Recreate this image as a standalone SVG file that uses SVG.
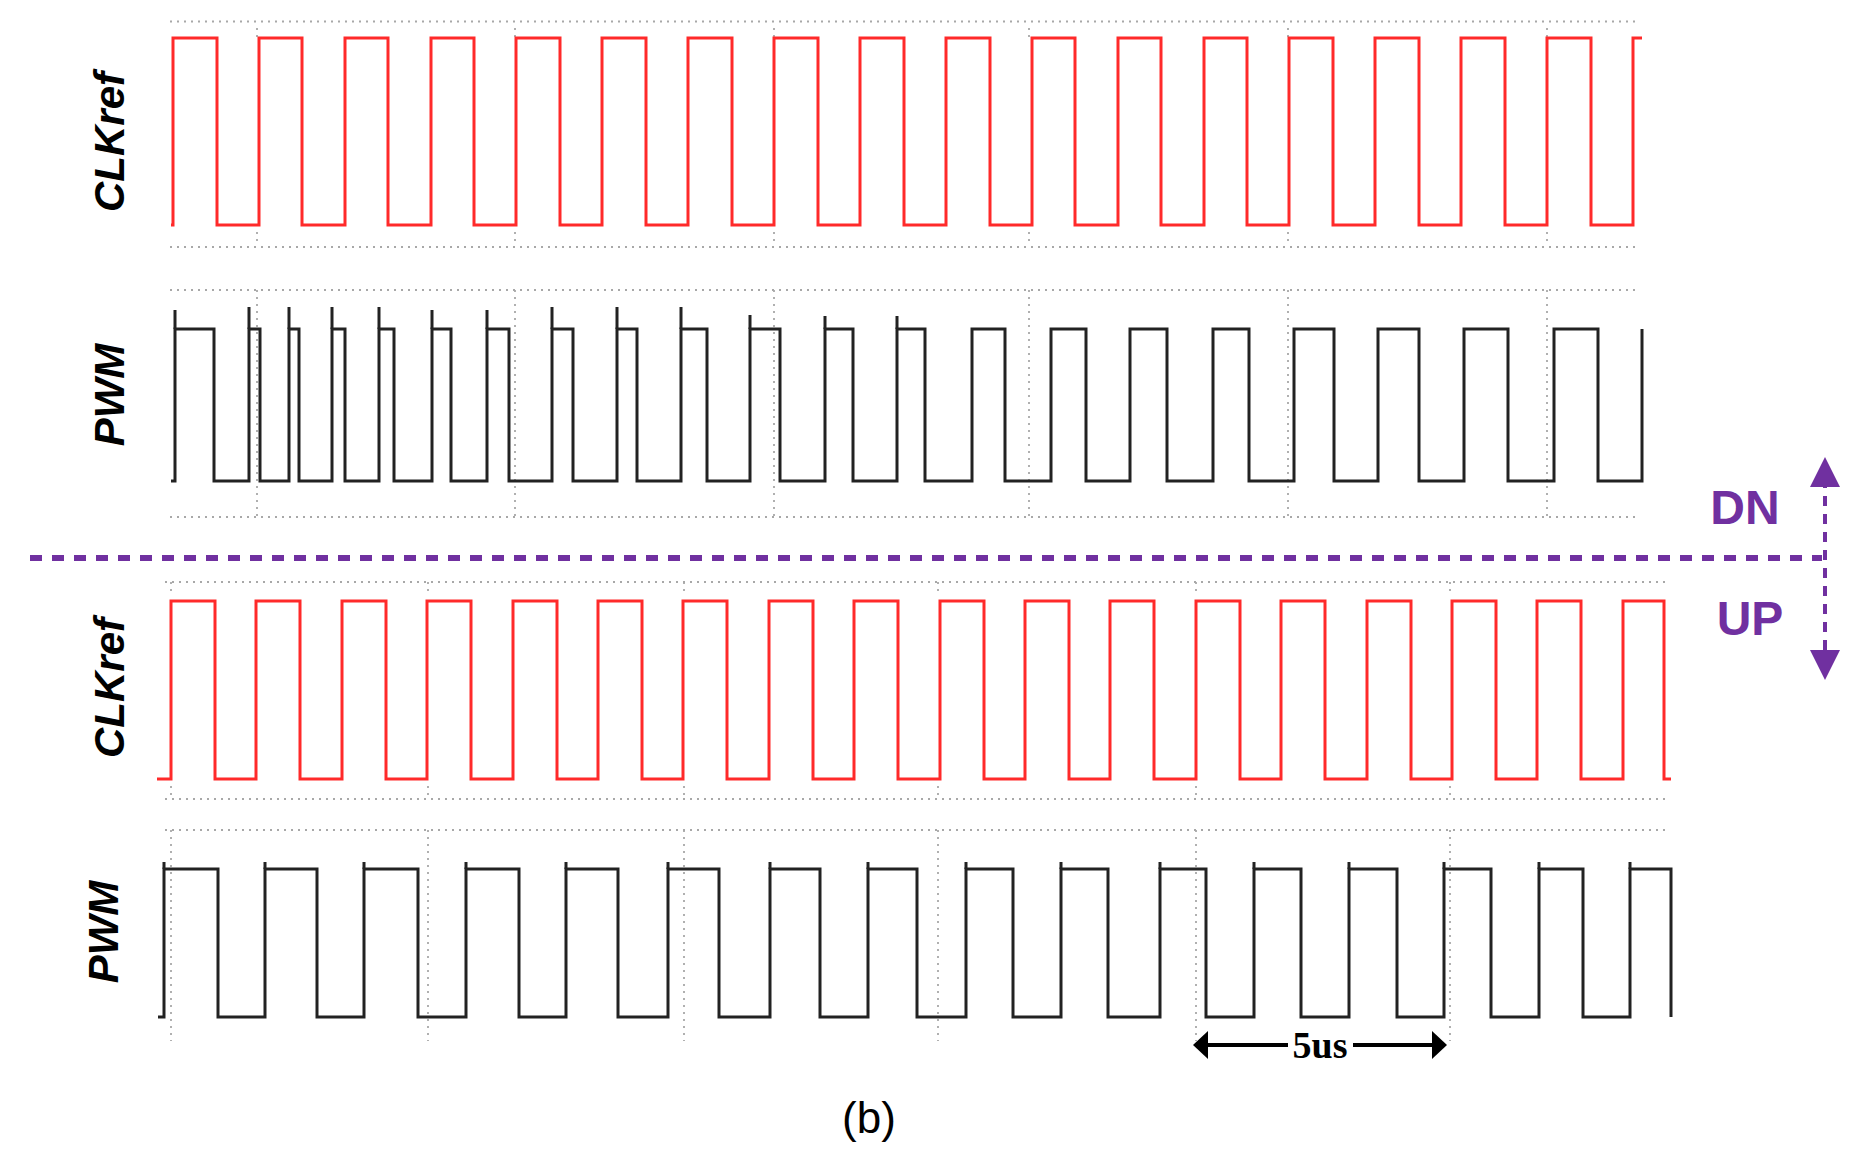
<svg xmlns="http://www.w3.org/2000/svg" width="1849" height="1161" viewBox="0 0 1849 1161">
<style>
.grid{stroke:#a8a8a8;stroke-width:1.8;stroke-dasharray:2 5;fill:none}
.clk{stroke:#ff2a2a;stroke-width:3;fill:none;stroke-linejoin:miter}
.pwm{stroke:#222;stroke-width:3;fill:none}
.lbl{font-family:"Liberation Sans",Arial,sans-serif;font-weight:bold;font-style:italic;font-size:42px;fill:#000}
.pur{font-family:"Liberation Sans Narrow","Liberation Sans",Arial,sans-serif;font-weight:bold;font-size:48px;fill:#7030A0}
</style>
<rect width="1849" height="1161" fill="#fff"/>
<g id="grid">
<path class="grid" d="M170,21.5H1640M170,247H1640M170,290H1640M170,517H1640M165,582H1670M165,799H1670M165,830H1670"/>
<path class="grid" d="M257,28V38M515,28V38M774,28V38M1029,28V38M1288,28V38M1547,28V38M257,232V242M515,232V242M774,232V242M1029,232V242M1288,232V242M1547,232V242"/>
<path class="grid" d="M257,290V517M515,290V517M774,290V517M1029,290V517M1288,290V517M1547,290V517"/>
<path class="grid" d="M171,582V592M428,582V592M684,582V592M938,582V592M1196,582V592M1450,582V592M171,786V799M428,786V799M684,786V799M938,786V799M1196,786V799M1450,786V799"/>
<path class="grid" d="M171,830V1041M428,830V1041M684,830V1041M938,830V1041M1196,830V1041M1450,830V1041"/>
</g>
<g id="clkref-top">
<path class="clk" d="M171,225 H173 V38 H217 V225 H259 V38 H302 V225 H345 V38 H388 V225 H431 V38 H474 V225 H516 V38 H560 V225 H602 V38 H646 V225 H688 V38 H732 V225 H774 V38 H818 V225 H860 V38 H904 V225 H946 V38 H990 V225 H1032 V38 H1075 V225 H1118 V38 H1161 V225 H1204 V38 H1247 V225 H1289 V38 H1333 V225 H1375 V38 H1419 V225 H1461 V38 H1505 V225 H1547 V38 H1591 V225 H1633 V38 H1642"/>
<text class="lbl" transform="translate(124,142) rotate(-90)" text-anchor="middle">CLKref</text>
</g>
<g id="pwm-top">
<path class="pwm" d="M171,481 H175 V329 H214 V481 H249 V329 H260 V481 H289 V329 H299 V481 H332 V329 H345 V481 H379 V329 H394 V481 H432 V329 H451 V481 H487 V329 H509 V481 H552 V329 H573 V481 H617 V329 H637 V481 H681 V329 H707 V481 H750 V329 H780 V481 H825 V329 H853 V481 H897 V329 H925 V481 H972 V329 H1005 V481 H1051 V329 H1086 V481 H1130 V329 H1167 V481 H1213 V329 H1249 V481 H1294 V329 H1334 V481 H1378 V329 H1419 V481 H1464 V329 H1508 V481 H1554 V329 H1598 V481 H1642 V329"/>
<path class="pwm" d="M175,329V310M249,329V307M289,329V307M332,329V307M379,329V307M432,329V310M487,329V310M552,329V307M617,329V307M681,329V307M750,329V315M825,329V316M897,329V316"/>
<text class="lbl" transform="translate(124,395) rotate(-90)" text-anchor="middle">PWM</text>
</g>
<g id="clkref-bottom">
<path class="clk" d="M157,779 H171 V601 H215 V779 H256 V601 H300 V779 H342 V601 H386 V779 H427 V601 H471 V779 H513 V601 H557 V779 H598 V601 H642 V779 H683 V601 H727 V779 H769 V601 H813 V779 H854 V601 H898 V779 H940 V601 H984 V779 H1025 V601 H1069 V779 H1110 V601 H1154 V779 H1196 V601 H1240 V779 H1281 V601 H1325 V779 H1367 V601 H1411 V779 H1452 V601 H1496 V779 H1537 V601 H1581 V779 H1623 V601 H1664 V779 H1671"/>
<text class="lbl" transform="translate(124,688) rotate(-90)" text-anchor="middle">CLKref</text>
</g>
<g id="pwm-bottom">
<path class="pwm" d="M158,1017 H164 V869 H218 V1017 H265 V869 H317 V1017 H364 V869 H418 V1017 H466 V869 H519 V1017 H566 V869 H618 V1017 H668 V869 H719 V1017 H770 V869 H820 V1017 H868 V869 H917 V1017 H966 V869 H1013 V1017 H1061 V869 H1108 V1017 H1160 V869 H1206 V1017 H1254 V869 H1301 V1017 H1349 V869 H1397 V1017 H1444 V869 H1491 V1017 H1539 V869 H1583 V1017 H1630 V869 H1671 V1017"/>
<path class="pwm" d="M164,869V862M265,869V862M364,869V862M466,869V862M566,869V862M668,869V862M770,869V862M868,869V862M966,869V862M1061,869V862M1160,869V862M1254,869V862M1349,869V862M1444,869V862M1539,869V862M1630,869V862"/>
<text class="lbl" transform="translate(118,932) rotate(-90)" text-anchor="middle">PWM</text>
</g>
<g id="connectors">
<path d="M30,558H1822" stroke="#7030A0" stroke-width="6" stroke-dasharray="12 10" fill="none"/>
<path d="M1825,478V660" stroke="#7030A0" stroke-width="4" stroke-dasharray="10 8" fill="none"/>
<polygon points="1825,457 1810,487 1840,487" fill="#7030A0"/>
<polygon points="1825,680 1810,650 1840,650" fill="#7030A0"/>
<path d="M1205,1045H1288M1353,1045H1435" stroke="#000" stroke-width="4"/>
<polygon points="1193,1045 1208,1031 1208,1059" fill="#000"/>
<polygon points="1447,1045 1432,1031 1432,1059" fill="#000"/>
</g>
<g id="labels">
<text class="pur" x="1745" y="524" text-anchor="middle">DN</text>
<text class="pur" x="1750" y="635" text-anchor="middle">UP</text>
<text x="1320" y="1058" text-anchor="middle" font-family="'Liberation Serif','Times New Roman',serif" font-size="38" font-weight="bold">5us</text>
<text x="869" y="1133" text-anchor="middle" font-family="'Liberation Sans',Arial,sans-serif" font-size="44">(b)</text>
</g>
</svg>
